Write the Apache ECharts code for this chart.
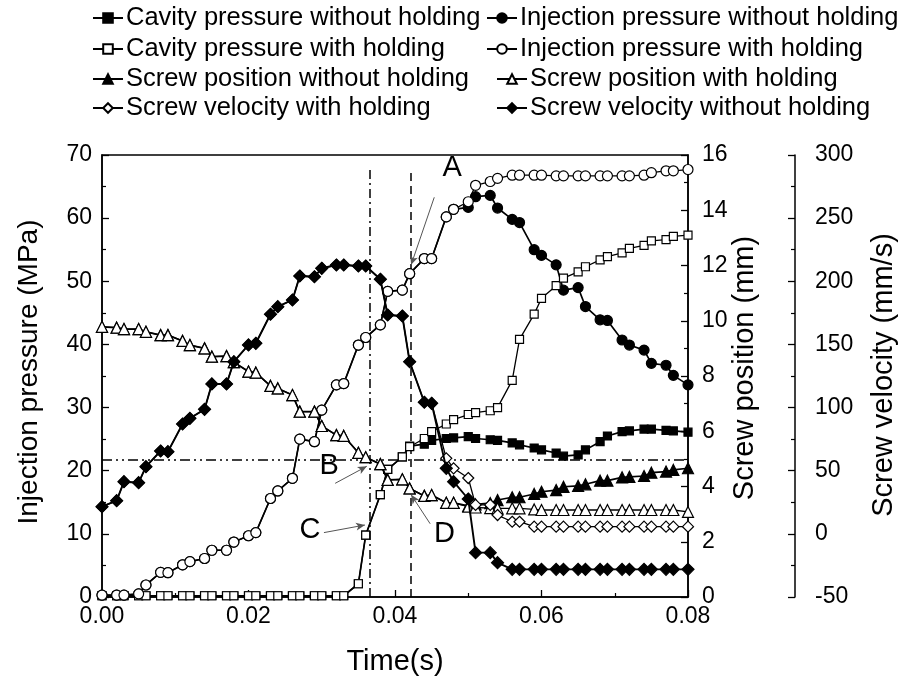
<!DOCTYPE html>
<html><head><meta charset="utf-8">
<script src="https://cdn.jsdelivr.net/npm/echarts@6/dist/echarts.min.js"></script>
<style>html,body{margin:0;padding:0;background:#fff}#c{width:902px;height:685px}</style>
</head><body><div id="c"></div>
<script>
const time = [0, 0.002, 0.003, 0.005, 0.006, 0.008, 0.009, 0.011, 0.012, 0.014, 0.015, 0.017, 0.018, 0.020, 0.021, 0.023, 0.024, 0.026, 0.027, 0.029, 0.030, 0.032, 0.033, 0.035, 0.036, 0.038, 0.039, 0.041, 0.042, 0.044, 0.045, 0.047, 0.048, 0.050, 0.051, 0.053, 0.054, 0.056, 0.057, 0.059, 0.060, 0.062, 0.063, 0.065, 0.066, 0.068, 0.069, 0.071, 0.072, 0.074, 0.075, 0.077, 0.078, 0.080];

const cavityNoHold = [0.2,0.2,0.2,0.2,0.2,0.2,0.2,0.2,0.2,0.2,0.2,0.2,0.2,0.2,0.2,0.2,0.2,0.2,0.2,0.2,0.2,0.2,0.2,2.1,9.8,16.2,20.2,22.2,23.9,24.2,24.8,25.1,25.2,25.4,25.1,24.9,24.8,24.4,24.1,23.6,23.3,22.8,22.3,22.5,23.3,24.6,25.5,26.2,26.3,26.6,26.6,26.4,26.3,26.1];
const injectionNoHold = [0.3,0.3,0.3,0.5,1.9,3.9,3.85,5.1,5.6,6.1,7.4,7.4,8.7,9.7,10.2,15.6,16.8,18.8,25.0,24.6,29.6,33.6,33.8,39.9,41.1,43.1,48.4,48.6,51.2,53.6,53.6,60.2,61.4,61.7,63.4,63.6,61.6,59.8,59.3,55.0,54.1,52.6,48.6,49.0,46.0,43.9,43.8,40.7,39.9,39.1,37.0,36.7,35.1,33.6];
const cavityHold = [0.2,0.2,0.2,0.2,0.2,0.2,0.2,0.2,0.2,0.2,0.2,0.2,0.2,0.2,0.2,0.2,0.2,0.2,0.2,0.2,0.2,0.2,0.2,2.1,9.8,16.2,20.2,22.2,23.8,25.1,26.2,27.4,28.1,28.9,29.2,29.5,30.0,34.3,40.8,44.8,47.3,49.3,50.5,51.5,52.3,53.4,53.9,54.5,55.2,55.7,56.4,56.6,57.1,57.3];
const injectionHold = [0.3,0.3,0.3,0.5,1.9,3.9,3.85,5.1,5.6,6.1,7.4,7.4,8.7,9.7,10.2,15.6,16.8,18.8,25.0,24.6,29.6,33.6,33.8,39.9,41.1,43.1,48.4,48.6,51.2,53.6,53.6,60.2,61.4,62.6,65.2,65.8,66.3,66.8,66.8,66.8,66.8,66.7,66.7,66.7,66.7,66.7,66.7,66.7,66.7,66.8,67.2,67.5,67.5,67.7];
const positionNoHold = [9.78,9.75,9.70,9.70,9.60,9.48,9.48,9.27,9.12,9.00,8.70,8.72,8.50,8.16,8.12,7.64,7.55,7.31,6.71,6.71,6.19,5.86,5.83,5.22,5.06,4.81,4.24,4.26,3.93,3.66,3.69,3.41,3.41,3.30,3.35,3.40,3.51,3.61,3.61,3.73,3.81,3.87,3.99,4.02,4.08,4.21,4.21,4.33,4.35,4.38,4.50,4.54,4.60,4.66];
const positionHold = [9.78,9.75,9.70,9.70,9.60,9.48,9.48,9.27,9.12,9.00,8.70,8.72,8.50,8.16,8.12,7.64,7.55,7.31,6.71,6.71,6.19,5.86,5.83,5.22,5.06,4.81,4.24,4.26,3.93,3.66,3.69,3.41,3.41,3.27,3.24,3.22,3.21,3.21,3.21,3.17,3.15,3.15,3.15,3.15,3.15,3.15,3.15,3.15,3.15,3.15,3.15,3.15,3.15,3.08];
const velocityHold = [21.5,26.3,41.3,40.5,53.2,65.6,65.1,87.0,91.5,98.6,118.7,118.7,136.3,149.6,150.9,173.9,179.9,185.2,204.2,203.6,210.3,212.9,212.9,212.1,212.1,201.6,173.3,172.5,136.3,104.2,103.4,59.8,51.9,44.2,22.9,22.9,14.9,9.6,9.6,5.7,5.7,5.7,5.7,5.7,5.7,5.7,5.7,5.7,5.7,5.7,5.7,5.7,5.7,5.7];
const velocityNoHold = [21.5,26.3,41.3,40.5,53.2,65.6,65.1,87.0,91.5,98.6,118.7,118.7,136.3,149.6,150.9,173.9,179.9,185.2,204.2,203.6,210.3,212.9,212.9,212.1,212.1,201.6,173.3,172.5,136.3,104.2,103.4,51.9,41.3,27.6,-14.9,-14.9,-22.8,-28.1,-28.1,-28.1,-28.1,-28.1,-28.1,-28.1,-28.1,-28.1,-28.1,-28.1,-28.1,-28.1,-28.1,-28.1,-28.1,-28.1];

const seriesNames = ['Cavity pressure without holding','Injection pressure without holding','Cavity pressure with holding','Injection pressure with holding','Screw position without holding','Screw position with holding','Screw velocity with holding','Screw velocity without holding'];
const fillTime = 0.0365;       // vertical dash-dot line
const holdTime = 0.0422;       // vertical dashed line
const refLevel = 21.7;         // horizontal dash-dot-dot line (MPa)
// annotations: [label, textX, textY, arrowFromX, arrowFromY, arrowToX, arrowToY] in data units of left axis
const annotations = [
  ['A', 0.0478, 68.0, 0.04536, 63.3, 0.04220, 52.6],
  ['B', 0.0310, 20.8, 0.03183, 18.0, 0.03615, 20.7],
  ['C', 0.0284, 10.6, 0.03030, 10.2, 0.03590, 11.4],
  ['D', 0.04675, 9.9, 0.04480, 11.6, 0.04220, 16.2]
];

const FONT = 'Liberation Sans';
const BLACK = '#000';
function pts(arr){ return time.map((t,i)=>[t, arr[i]]); }

const styles = [
  {sym:'rect', size:8, fill:BLACK, y:0, lw:1.7},
  {sym:'circle', size:10, fill:BLACK, y:0, lw:1.7},
  {sym:'rect', size:8, fill:'#fff', y:0, lw:1.3},
  {sym:'circle', size:10, fill:'#fff', y:0, lw:1.3},
  {sym:'triangle', size:11, fill:BLACK, y:1, lw:1.7},
  {sym:'triangle', size:11, fill:'#fff', y:1, lw:1.3},
  {sym:'diamond', size:11, fill:'#fff', y:2, lw:1.3},
  {sym:'diamond', size:12, fill:BLACK, y:2, lw:1.9}
];
const arrays = [cavityNoHold, injectionNoHold, cavityHold, injectionHold, positionNoHold, positionHold, velocityHold, velocityNoHold];

const series = arrays.map((arr,k)=>({
  name: seriesNames[k], type:'line', yAxisIndex: styles[k].y,
  data: pts(arr), symbol: styles[k].sym, symbolSize: styles[k].size, showAllSymbol:true,
  lineStyle:{color:BLACK, width:styles[k].lw},
  itemStyle:{color:styles[k].fill, borderColor:BLACK, borderWidth:1.2},
  z: 3 + k
}));

series.push({
  name:'annot', type:'line', yAxisIndex:0, data:[[0,null]], symbol:'none', z:2,
  markLine:{
    silent:true, symbol:['none','none'], label:{show:false}, animation:false,
    data:[
      [{coord:[fillTime,0], lineStyle:{type:[9,4,2,4], color:BLACK, width:1.5}},{coord:[fillTime,68.1]}],
      [{coord:[holdTime,0], lineStyle:{type:[8,5], color:BLACK, width:1.5}},{coord:[holdTime,67.2]}],
      [{coord:[0,refLevel], lineStyle:{type:[10,4,2,4,2,4], color:BLACK, width:1.5}},{coord:[0.08,refLevel]}]
    ]
  }
});
series.push({
  name:'arrows', type:'line', yAxisIndex:0, data:[[0,null]], symbol:'none', z:20,
  markLine:{
    silent:true, symbol:['none','arrow'], symbolSize:[6,9], label:{show:false}, animation:false,
    lineStyle:{color:'#555', width:1, type:'solid'},
    data: annotations.map(a=>[{coord:[a[3],a[4]]},{coord:[a[5],a[6]]}])
  },
  markPoint:{
    silent:true, symbol:'circle', symbolSize:1, itemStyle:{color:'rgba(0,0,0,0)'}, animation:false,
    label:{show:true, position:'inside', color:BLACK, fontSize:29, fontFamily:FONT},
    data: annotations.map(a=>({coord:[a[1],a[2]], value:a[0], label:{formatter:a[0]}}))
  }
});

const legendPos = [[92,5],[486,5],[92,36],[486,36],[92,66],[496,66],[92,95],[496,95]];
const legends = seriesNames.map((n,k)=>({
  data:[n], left:legendPos[k][0], top:legendPos[k][1], padding:0, itemGap:0,
  itemWidth:30, itemHeight:12, selectedMode:false,
  textStyle:{fontSize:25.5, fontFamily:FONT, color:BLACK, padding:[0,0,0,-2]}
}));

const axisCommon = {
  axisLine:{show:true, lineStyle:{color:BLACK, width:1.5}},
  axisTick:{show:true, inside:true, length:7, lineStyle:{color:BLACK, width:1.3}},
  minorTick:{show:true, splitNumber:2, length:4, lineStyle:{color:BLACK, width:1.2}},
  splitLine:{show:false},
  axisLabel:{fontSize:23, fontFamily:FONT, color:BLACK}
};

const option = {
  animation:false,
  backgroundColor:'#fff',
  grid:{left:102, right:214, top:155, bottom:88, show:true, borderColor:BLACK, borderWidth:1.5, backgroundColor:'transparent'},
  legend: legends,
  xAxis:{type:'value', min:0, max:0.08, interval:0.02, ...axisCommon,
    axisLabel:{...axisCommon.axisLabel, margin:8, formatter:v=>v.toFixed(2)}},
  yAxis:[
    {type:'value', min:0, max:70, interval:10, position:'left', ...axisCommon, axisLabel:{...axisCommon.axisLabel, margin:10}},
    {type:'value', min:0, max:16, interval:2, position:'right', ...axisCommon, axisLabel:{...axisCommon.axisLabel, margin:14}},
    {type:'value', min:-50, max:300, interval:50, position:'right', offset:107, ...axisCommon, axisLabel:{...axisCommon.axisLabel, margin:20}}
  ],
  graphic:[
    {type:'text', x:29, y:372, rotation:Math.PI/2, style:{text:'Injection pressure (MPa)', font:'28px "'+FONT+'"', fill:BLACK, align:'center', verticalAlign:'middle'}},
    {type:'text', x:745, y:368, rotation:Math.PI/2, style:{text:'Screw position (mm)', font:'29px "'+FONT+'"', fill:BLACK, align:'center', verticalAlign:'middle'}},
    {type:'text', x:884, y:375, rotation:Math.PI/2, style:{text:'Screw velocity (mm/s)', font:'29px "'+FONT+'"', fill:BLACK, align:'center', verticalAlign:'middle'}},
    {type:'text', x:395, y:662, style:{text:'Time(s)', font:'29px "'+FONT+'"', fill:BLACK, align:'center', verticalAlign:'middle'}}
  ],
  series: series
};
const chart = echarts.init(document.getElementById('c'), null, {renderer:'canvas'});
chart.setOption(option);
</script></body></html>
